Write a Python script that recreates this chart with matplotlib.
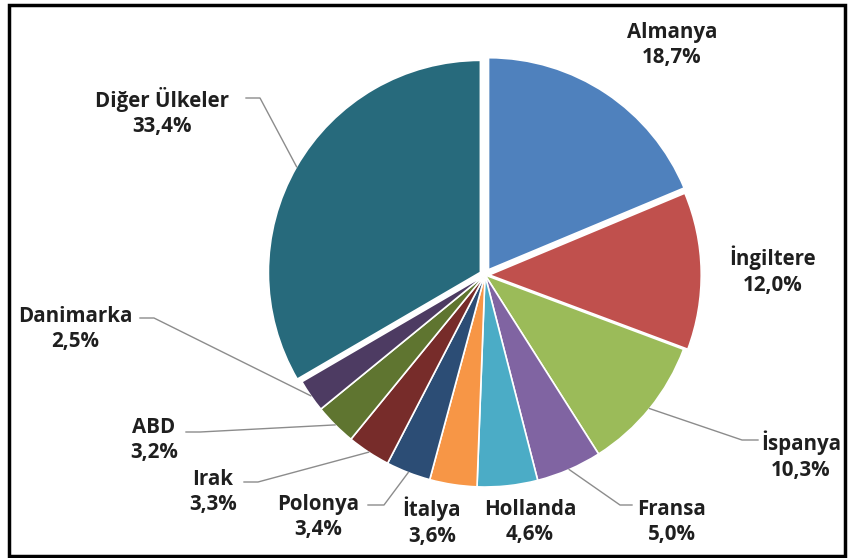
import numpy as np
import matplotlib.pyplot as plt
from matplotlib.patches import Rectangle

countries = ['Almanya', 'İngiltere', 'İspanya', 'Fransa', 'Hollanda', 'İtalya',
             'Polonya', 'Irak', 'ABD', 'Danimarka', 'Diğer Ülkeler']
shares = [18.7, 12.0, 10.3, 5.0, 4.6, 3.6, 3.4, 3.3, 3.2, 2.5, 33.4]
colors = ['#4F81BD', '#C0504D', '#9BBB59', '#8064A2', '#4BACC6', '#F79646',
          '#2C4D75', '#772C2A', '#5F7530', '#4D3B62', '#276A7C']
explode_frac = [0.03, 0.02, 0, 0, 0, 0, 0, 0, 0, 0, 0.025]

# label centre (pixels, y down) and leader elbow (None = no leader line)
label_pos = [(672, 45), (773, 271), (801, 456), (672, 522), (530, 522), (432, 522),
             (318, 517), (213, 492), (154, 440), (75, 329), (162, 112)]
leader_end = [None, None, (758, 440), (632, 505), None, None,
              (368, 505), (244, 482), (186, 432), (140, 318), (246, 98)]
leader_stub = [0, 0, -16, -12, 0, 0, 16, 14, 14, 14, 14]

W, H = 849, 558
cx, cy, R = 485, H - 275, 212
explode = [f * R for f in explode_frac]

fig = plt.figure(figsize=(W / 100, H / 100), dpi=100)
ax = fig.add_axes([0, 0, 1, 1])
wedges, _ = ax.pie(shares, colors=colors, explode=explode, startangle=90,
                   counterclock=False, center=(cx, cy), radius=R,
                   wedgeprops=dict(edgecolor='white', linewidth=1.2))
ax.set_xlim(0, W)
ax.set_ylim(0, H)
ax.set_aspect('equal')
ax.axis('off')

for i, w in enumerate(wedges):
    lx, ly = label_pos[i]
    pct = ('%.1f%%' % shares[i]).replace('.', ',')
    ax.text(lx, H - ly, countries[i] + '\n' + pct, ha='center', va='center',
            fontsize=14.8, fontweight='bold', family='Open Sans',
            color='#1F1F1F', linespacing=1.3)
    if leader_end[i] is not None:
        ang = np.deg2rad((w.theta1 + w.theta2) / 2)
        r = R + explode[i]
        ex, ey = leader_end[i]
        px = cx + r * np.cos(ang)
        py = cy + r * np.sin(ang)
        ax.plot([ex, ex + leader_stub[i], px], [H - ey, H - ey, py],
                color='#8C8C8C', lw=1)

fig.add_artist(Rectangle((9 / W, 2 / H), 836 / W, 551 / H, transform=fig.transFigure,
                         fill=False, edgecolor='black', linewidth=2.5))

plt.savefig('out.png', dpi=100)
